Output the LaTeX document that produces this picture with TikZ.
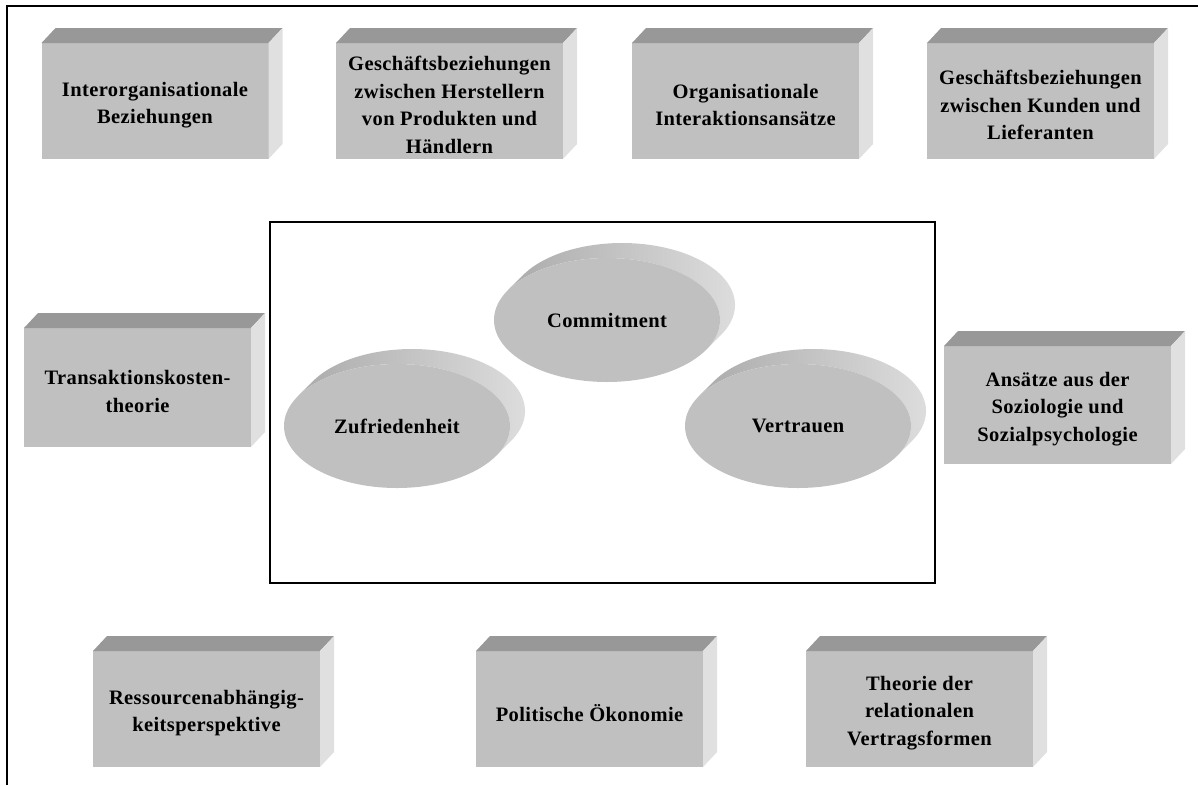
\documentclass[tikz,border=0pt]{standalone}
\usepackage{fontspec}
\setmainfont{Liberation Serif}[LetterSpace=2]
\usetikzlibrary{shapes.geometric,calc}

\definecolor{facefront}{HTML}{C0C0C0}
\definecolor{facetop}{HTML}{989898}
\definecolor{faceside}{HTML}{E0E0E0}
\definecolor{discleft}{HTML}{ABABAB}
\definecolor{discmid}{HTML}{9A9A9A}
\definecolor{discright}{HTML}{E0E0E0}

\tikzset{
  labeltext/.style={font=\bfseries\fontsize{20.5}{27.5}\selectfont, align=center, text=black, inner sep=0},
  cubefront/.style={fill=facefront},
  cubetop/.style={fill=facetop},
  cubeside/.style={fill=faceside},
  discfront/.style={labeltext, ellipse, fill=facefront, minimum width=226, minimum height=124, inner sep=0},
  discside/.style={left color=discleft, middle color=discmid, right color=discright},
  frameline/.style={line width=2},
  corebox/.style={draw, line width=1.5, inner sep=0}
}

% box: front face 227 wide, given height, with top and right faces
% (depth 14 right, 15 up); the label sits slightly below the centre
\newcommand\cubebox[5]{%
  \fill[cubefront] ($(#2,#3)+(-113.5,-#4/2)$) rectangle ($(#2,#3)+(113.5,#4/2)$);
  \fill[cubetop] ($(#2,#3)+(-113.5,-#4/2)$) -- ++(14,-15) -- ++(227,0) -- ++(-14,15) -- cycle;
  \fill[cubeside] ($(#2,#3)+(113.5,-#4/2)$) -- ++(14,-15) -- ++(0,#4) -- ++(-14,15) -- cycle;
  \node[labeltext] (#1) at ($(#2,#3)+(0,4)$) {#5};
}

% flat disc with its shaded rim visible at the upper right
\newcommand\disc[4]{%
  \shade[discside] (#2,#3) ++(208.75:113 and 62) -- ++(15,-15)
    arc[start angle=208.75, end angle=388.75, x radius=113, y radius=62]
    -- ++(-15,15)
    arc[start angle=28.75, end angle=-151.25, x radius=113, y radius=62] -- cycle;
  \node[discfront] (#1) at (#2,#3) {#4};
}

\begin{document}
\begin{tikzpicture}[x=1pt,y=-1pt]
\useasboundingbox (0,0) rectangle (1198,785);

% open frame: left and top edges
\coordinate (fbl) at (7,785);
\coordinate (ftl) at (7,6);
\coordinate (ftr) at (1198,6);
\draw[frameline] (fbl) -- (ftl) -- (ftr);

% top row
\cubebox{interorg}{155}{101}{116}{Interorganisationale\\Beziehungen}
\cubebox{hersteller}{449.5}{101}{116}{Geschäftsbeziehungen\\zwischen Herstellern\\von Produkten und\\Händlern}
\cubebox{interaktion}{745.5}{101}{116}{Organisationale\\Interaktionsansätze}
\cubebox{kunden}{1040.5}{101}{116}{Geschäftsbeziehungen\\zwischen Kunden und\\Lieferanten}

% middle row
\cubebox{transaktion}{137.5}{387.5}{119}{Transaktionskosten-\\theorie}
\cubebox{soziologie}{1057.5}{405}{118}{Ansätze aus der\\Soziologie und\\Sozialpsychologie}

% core constructs
\node[corebox, minimum width=665, minimum height=361] (core) at (602.5,402.5) {};
\disc{commitment}{607}{320}{Commitment}
\disc{zufriedenheit}{397}{426}{Zufriedenheit}
\disc{vertrauen}{798}{426}{Vertrauen}

% bottom row
\cubebox{ressourcen}{206.5}{709}{116}{Ressourcenabhängig-\\keitsperspektive}
\cubebox{politik}{589.5}{709}{116}{Politische Ökonomie}
\cubebox{vertrag}{919.5}{709}{116}{Theorie der\\relationalen\\Vertragsformen}
\end{tikzpicture}
\end{document}
